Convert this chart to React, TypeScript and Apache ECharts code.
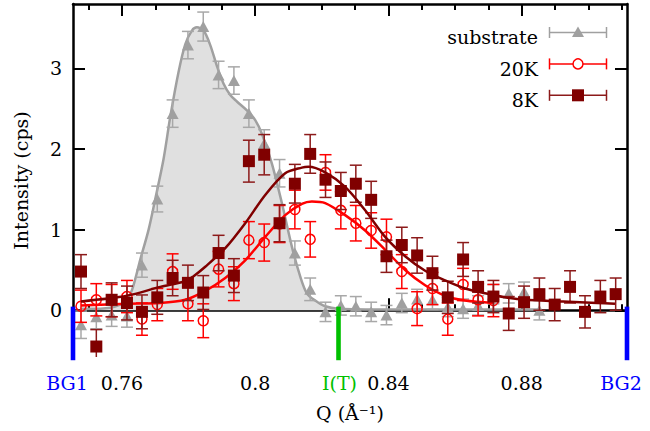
import React, { useEffect, useRef } from 'react';
import * as echarts from 'echarts';

// ---- data ----
const Q = [0.7477, 0.7523, 0.7569, 0.7615, 0.7660, 0.7706, 0.7752, 0.7798, 0.7844, 0.7890, 0.7936, 0.7981,
  0.8027, 0.8073, 0.8119, 0.8165, 0.8211, 0.8257, 0.8302, 0.8348, 0.8394, 0.8440, 0.8486, 0.8532,
  0.8578, 0.8624, 0.8669, 0.8715, 0.8761, 0.8807, 0.8853, 0.8899, 0.8945, 0.8990, 0.9036, 0.9082];

const substrate = [-0.18, -0.08, -0.06, -0.07, 0.56, 1.38, 2.44, 3.29, 3.52, 2.92, 2.85, 2.44, 2.07, 1.70, 0.71, 0.26,
  -0.02, 0.06, 0.05, -0.02, -0.06, 0.09, 0.14, 0.13, 0.04, 0.02, 0.06, 0.20, 0.21, 0.23, 0.0];
const substrateErr = [0.17, 0.15, 0.14, 0.14, 0.15, 0.16, 0.17, 0.17, 0.18, 0.17, 0.17, 0.17, 0.17, 0.17, 0.15, 0.14,
  0.12, 0.12, 0.12, 0.12, 0.12, 0.12, 0.12, 0.12, 0.12, 0.12, 0.12, 0.12, 0.12, 0.12, 0.12];

const k20 = [0.05, 0.13, 0.12, 0.17, -0.11, 0.07, 0.48, 0.08, -0.13, 0.51, 0.33, 0.87, 0.84, 1.07, 1.25, 0.88,
  1.71, 1.24, 1.08, 0.99, 0.91, 0.48, 0.02, 0.27, -0.11, 0.32, 0.13, 0.12];
const k20Err = [0.2, 0.2, 0.2, 0.2, 0.2, 0.2, 0.22, 0.21, 0.21, 0.22, 0.21, 0.23, 0.23, 0.23, 0.24, 0.22,
  0.22, 0.23, 0.22, 0.22, 0.22, 0.21, 0.21, 0.2, 0.2, 0.2, 0.2, 0.2];

const k8 = [0.48, -0.45, 0.13, 0.09, -0.02, 0.16, 0.40, 0.34, 0.22, 0.71, 0.43, 1.85, 1.93, 1.08, 1.57, 1.94,
  1.62, 1.48, 1.57, 1.37, 0.67, 0.81, 0.68, 0.46, 0.16, 0.63, 0.29, 0.17, -0.04, 0.10, 0.20, 0.07,
  0.29, -0.02, 0.17, 0.20];
const k8Err = [0.21, 0.21, 0.21, 0.21, 0.21, 0.21, 0.22, 0.22, 0.21, 0.22, 0.21, 0.26, 0.25, 0.23, 0.24, 0.24,
  0.22, 0.23, 0.23, 0.23, 0.2, 0.22, 0.22, 0.21, 0.2, 0.21, 0.2, 0.2, 0.21, 0.2, 0.2, 0.2, 0.2, 0.2, 0.2, 0.2];

const subFitQ = [0.7475, 0.7535, 0.7565, 0.7595, 0.761, 0.763, 0.7655, 0.768, 0.770, 0.7725, 0.7745, 0.777, 0.779,
  0.781, 0.7825, 0.7845, 0.7865, 0.7885, 0.7905, 0.7925, 0.7945, 0.7975, 0.800, 0.802, 0.805, 0.808, 0.811,
  0.8135, 0.8155, 0.818, 0.821, 0.825, 0.84, 0.86, 0.885];
const subFitI = [0.02, 0.02, 0.03, 0.07, 0.10, 0.25, 0.63, 1.0, 1.38, 1.88, 2.40, 2.96, 3.30, 3.47, 3.51, 3.47,
  3.29, 3.03, 2.81, 2.67, 2.59, 2.48, 2.36, 2.19, 1.82, 1.33, 0.79, 0.42, 0.21, 0.12, 0.05, 0.02, 0.01, 0.01, 0.01];

const k20FitQ = [0.7477, 0.7615, 0.7715, 0.779, 0.785, 0.791, 0.797, 0.803, 0.809, 0.814, 0.817, 0.821, 0.827,
  0.833, 0.839, 0.845, 0.851, 0.857, 0.863, 0.8715];
const k20FitI = [0.06, 0.08, 0.09, 0.13, 0.24, 0.40, 0.62, 0.91, 1.18, 1.32, 1.35, 1.33, 1.18, 0.99, 0.75, 0.50,
  0.31, 0.18, 0.12, 0.09];

const k8FitQ = [0.7477, 0.7615, 0.7715, 0.779, 0.7814, 0.785, 0.791, 0.797, 0.803, 0.809, 0.814, 0.816, 0.821,
  0.827, 0.833, 0.839, 0.845, 0.851, 0.857, 0.863, 0.869, 0.875, 0.881, 0.8924, 0.9026, 0.908];
const k8FitI = [0.11, 0.18, 0.29, 0.36, 0.42, 0.54, 0.77, 1.08, 1.43, 1.70, 1.77, 1.78, 1.71, 1.53, 1.24, 0.91,
  0.67, 0.49, 0.37, 0.27, 0.21, 0.16, 0.13, 0.11, 0.09, 0.08];

const xTicks = [0.76, 0.8, 0.84, 0.88];
const xMinorTicks = [0.75, 0.77, 0.78, 0.79, 0.81, 0.82, 0.83, 0.85, 0.86, 0.87, 0.89, 0.9, 0.91];
const yTicks = [0, 1, 2, 3];

const markerNames = ['BG1', 'I(T)', 'BG2'];
const markerQ = [0.7453, 0.825, 0.9116];

const legendNames = ['substrate', '20K', '8K'];

const X_MIN = 0.7453;
const X_MAX = 0.9116;
const Y_MIN = -0.58;
const Y_MAX = 3.8;

const FONT = 'DejaVu Serif';
const FS = 19;
const GRAY = '#a0a0a0';
const RED = '#ff0000';
const DARK = '#800000';
const DARK_ERR = '#8c1a1a';
const BLUE = '#0000ff';
const GREEN = '#00c000';

function errRender(color: string, cap: number) {
  return (params: any, api: any) => {
    const x = api.value(0);
    const y = api.value(1);
    const e = api.value(2);
    const top = api.coord([x, y + e]);
    const bot = api.coord([x, y - e]);
    const style = { stroke: color, lineWidth: 1.5 };
    return {
      type: 'group',
      children: [
        { type: 'line', shape: { x1: top[0], y1: top[1], x2: bot[0], y2: bot[1] }, style },
        { type: 'line', shape: { x1: top[0] - cap, y1: top[1], x2: top[0] + cap, y2: top[1] }, style },
        { type: 'line', shape: { x1: bot[0] - cap, y1: bot[1], x2: bot[0] + cap, y2: bot[1] }, style },
      ],
    };
  };
}

export default function App() {
  const ref = useRef<HTMLDivElement>(null);
  useEffect(() => {
    document.body.style.margin = '0';
    const chart = echarts.init(ref.current!, null, { renderer: 'svg' });

    const subData = substrate.map((v, i) => [Q[i], v, substrateErr[i]]);
    const k20Data = k20.map((v, i) => [Q[i], v, k20Err[i]]);
    const k8Data = k8.map((v, i) => [Q[i], v, k8Err[i]]);

    const axisLine = { show: true, lineStyle: { color: '#000', width: 2.5 } };
    const majorTick = (vals: number[]) => ({ show: true, inside: true, length: 12, lineStyle: { color: '#000', width: 2 }, customValues: vals });
    const minorTick = (vals: number[]) => ({ show: true, inside: true, length: 6, lineStyle: { color: '#000', width: 2 }, customValues: vals });
    const labelStyle = { fontFamily: FONT, fontSize: FS, color: '#000' };

    const baseX = { type: 'value', min: X_MIN, max: X_MAX, splitLine: { show: false }, minorTick: { show: false } };
    const baseY = { type: 'value', min: Y_MIN, max: Y_MAX, splitLine: { show: false }, minorTick: { show: false } };

    const legendColors = [GRAY, RED, DARK];
    const legendGraphics: any[] = [];
    legendNames.forEach((name, i) => {
      const yl = 32.5 + i * 31.4;
      const yt = 37.2 + i * 31.3;
      const c = legendColors[i];
      const lc = i === 2 ? DARK_ERR : c;
      legendGraphics.push({ type: 'text', x: 538, y: yt, style: { text: name, fontFamily: FONT, fontSize: FS, fill: '#000', align: 'right', verticalAlign: 'middle' } });
      legendGraphics.push({ type: 'line', shape: { x1: 549.5, y1: yl, x2: 606.5, y2: yl }, style: { stroke: lc, lineWidth: 1.5 } });
      legendGraphics.push({ type: 'line', shape: { x1: 549.5, y1: yl - 5.5, x2: 549.5, y2: yl + 5.5 }, style: { stroke: lc, lineWidth: 1.5 } });
      legendGraphics.push({ type: 'line', shape: { x1: 606.5, y1: yl - 5.5, x2: 606.5, y2: yl + 5.5 }, style: { stroke: lc, lineWidth: 1.5 } });
      if (i === 0) {
        legendGraphics.push({ type: 'polygon', shape: { points: [[578, yl - 6], [584, yl + 4.5], [572, yl + 4.5]] }, style: { fill: c } });
      } else if (i === 1) {
        legendGraphics.push({ type: 'circle', shape: { cx: 578, cy: yl, r: 5 }, style: { fill: '#fff', stroke: c, lineWidth: 1.5 } });
      } else {
        legendGraphics.push({ type: 'rect', shape: { x: 572, y: yl - 6, width: 12, height: 12 }, style: { fill: c } });
      }
    });

    chart.setOption({
      animation: false,
      backgroundColor: '#fff',
      grid: { left: 73, right: 23, top: 4, bottom: 74, containLabel: false },
      xAxis: [
        {
          ...baseX, position: 'bottom', axisLine, axisTick: majorTick(xTicks),
          axisLabel: { show: true, margin: 16, customValues: xTicks, ...labelStyle },
          name: 'Q (Å⁻¹)', nameLocation: 'middle', nameGap: 46,
          nameTextStyle: { fontFamily: FONT, fontSize: FS, color: '#000' },
        },
        { ...baseX, position: 'bottom', axisLine: { show: false }, axisTick: minorTick(xMinorTicks), axisLabel: { show: false } },
        { ...baseX, position: 'top', axisLine, axisTick: majorTick(xTicks), axisLabel: { show: false } },
        { ...baseX, position: 'top', axisLine: { show: false }, axisTick: minorTick(xMinorTicks), axisLabel: { show: false } },
      ],
      yAxis: [
        {
          ...baseY, position: 'left', axisLine, axisTick: majorTick(yTicks),
          axisLabel: { show: true, margin: 11, customValues: yTicks, ...labelStyle },
          name: 'Intensity (cps)', nameLocation: 'middle', nameGap: 43, nameRotate: 90,
          nameTextStyle: { fontFamily: FONT, fontSize: FS, color: '#000' },
        },
        { ...baseY, position: 'right', axisLine, axisTick: majorTick(yTicks), axisLabel: { show: false } },
      ],
      graphic: legendGraphics,
      series: [
        {
          name: 'substrate fit', type: 'line', data: subFitQ.map((q, i) => [q, subFitI[i]]),
          showSymbol: false, smooth: 0.3, z: 1,
          lineStyle: { color: GRAY, width: 2.5 },
          areaStyle: { color: '#e0e0e0', opacity: 1, origin: 'auto' },
        },
        { name: 'substrate err', type: 'custom', data: subData, renderItem: errRender('#a8a8a8', 6), clip: true, z: 2 },
        {
          name: 'substrate', type: 'scatter', data: subData.map(d => [d[0], d[1]]),
          symbol: 'triangle', symbolSize: [12, 11], itemStyle: { color: GRAY, opacity: 1 }, z: 3,
        },
        {
          name: '20K fit', type: 'line', data: k20FitQ.map((q, i) => [q, k20FitI[i]]),
          showSymbol: false, smooth: 0.3, z: 4, lineStyle: { color: RED, width: 2.5 },
        },
        { name: '20K err', type: 'custom', data: k20Data, renderItem: errRender(RED, 6), clip: true, z: 4 },
        {
          name: '20K', type: 'scatter', data: k20Data.map(d => [d[0], d[1]]),
          symbol: 'circle', symbolSize: 10,
          itemStyle: { color: 'rgba(255,255,255,0)', borderColor: RED, borderWidth: 1.5, opacity: 1 }, z: 5,
        },
        {
          name: '8K fit', type: 'line', data: k8FitQ.map((q, i) => [q, k8FitI[i]]),
          showSymbol: false, smooth: 0.3, z: 6, lineStyle: { color: DARK, width: 2.5 },
        },
        { name: '8K err', type: 'custom', data: k8Data, renderItem: errRender(DARK_ERR, 6), clip: true, z: 6 },
        {
          name: '8K', type: 'scatter', data: k8Data.map(d => [d[0], d[1]]),
          symbol: 'rect', symbolSize: 12, itemStyle: { color: DARK, opacity: 1 }, z: 7,
        },
        {
          name: 'markers', type: 'custom', clip: false, z: 10,
          data: markerQ.map((q, i) => [q, i]),
          renderItem: (params: any, api: any) => {
            const q = api.value(0);
            const idx = api.value(1);
            const name = markerNames[idx];
            const color = name.startsWith('BG') ? BLUE : GREEN;
            const top = api.coord([q, 0.045]);
            const bot = api.coord([q, -0.62]);
            const axisY = api.coord([q, Y_MIN])[1];
            const dx = name.startsWith('BG') ? -6 : 1;
            return {
              type: 'group',
              children: [
                { type: 'rect', shape: { x: top[0] - 2.3, y: top[1], width: 4.6, height: bot[1] - top[1] }, style: { fill: color } },
                {
                  type: 'text', x: top[0] + dx, y: axisY + 26,
                  style: { text: name, fontFamily: FONT, fontSize: FS, fill: color, align: 'center', verticalAlign: 'middle' },
                },
              ],
            };
          },
        },
      ],
    });
    return () => chart.dispose();
  }, []);
  return <div ref={ref} style={{ position: 'fixed', left: 0, top: 0, width: 650, height: 431 }} />;
}
